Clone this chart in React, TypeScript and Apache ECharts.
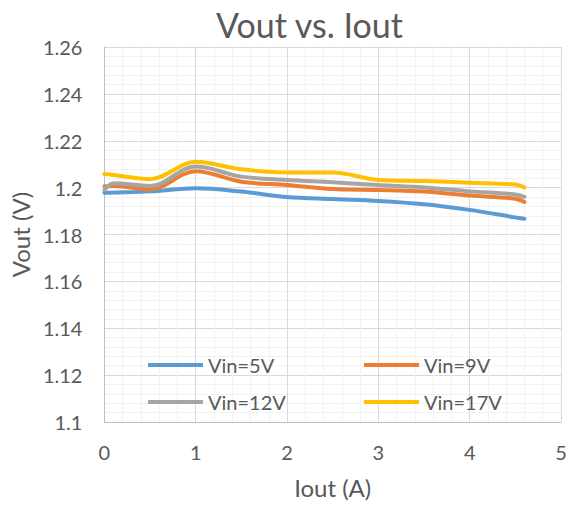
import React, { useEffect, useRef } from "react";
import * as echarts from "echarts";

const iout = [0, 0.1, 0.5, 1, 1.5, 2, 2.5, 3, 3.5, 4, 4.5, 4.6];
const vin5 = [1.1978, 1.1979, 1.1984, 1.1997, 1.1983, 1.196, 1.1951, 1.1943, 1.1929, 1.1905, 1.1873, 1.1867];
const vin9 = [1.2006, 1.2007, 1.1993, 1.207, 1.2025, 1.2011, 1.1994, 1.199, 1.1983, 1.1966, 1.1953, 1.1939];
const vin12 = [1.199, 1.2019, 1.2007, 1.209, 1.2047, 1.2033, 1.2023, 1.2011, 1.2001, 1.1984, 1.1971, 1.1961];
const vin17 = [1.2058, 1.2054, 1.2036, 1.211, 1.2078, 1.2065, 1.2065, 1.2033, 1.2028, 1.2021, 1.2013, 1.2001];
const seriesNames = ["Vin=5V", "Vin=9V", "Vin=12V", "Vin=17V"];
const seriesValues = [vin5, vin9, vin12, vin17];
const colors = ["#5B9BD5", "#ED7D31", "#A5A5A5", "#FFC000"];

const FONT = "Lato";
const TXT = "#595959";

export default function App() {
  const ref = useRef<HTMLDivElement>(null);
  useEffect(() => {
    document.body.style.margin = "0";
    if (!ref.current) return;
    const chart = echarts.init(ref.current, null, { renderer: "svg" });
    const legendPos = [
      { left: 148, top: 355 },
      { left: 364, top: 355 },
      { left: 148, top: 392 },
      { left: 364, top: 392 },
    ];
    chart.setOption({
      animation: false,
      backgroundColor: "#ffffff",
      title: {
        text: "Vout vs. Iout",
        left: 211,
        top: 2,
        textStyle: { fontFamily: FONT, fontSize: 34, fontWeight: "normal", color: TXT },
      },
      legend: seriesNames.map((n, i) => ({
        data: [n],
        left: legendPos[i].left,
        top: legendPos[i].top,
        icon: "rect",
        itemWidth: 55,
        itemHeight: 4,
        itemGap: 5,
        padding: 0,
        textStyle: { fontFamily: FONT, fontSize: 20, color: TXT },
      })),
      grid: { left: 101, right: 11, top: 47, bottom: 83 },
      xAxis: {
        type: "value",
        min: 0,
        max: 5,
        interval: 1,
        name: "Iout (A)",
        nameLocation: "middle",
        nameGap: 53,
        nameTextStyle: { fontFamily: FONT, fontSize: 24, color: TXT },
        axisLine: { show: true, lineStyle: { color: "#bfbfbf", width: 1 } },
        axisTick: { show: false },
        axisLabel: { fontFamily: FONT, fontSize: 20, color: TXT, margin: 20 },
        splitLine: { show: true, lineStyle: { color: "#d9d9d9", width: 1 } },
        minorTick: { show: false, splitNumber: 5 },
        minorSplitLine: { show: true, lineStyle: { color: "#f2f2f2", width: 1 } },
      },
      yAxis: {
        type: "value",
        min: 1.1,
        max: 1.26,
        interval: 0.02,
        name: "Vout (V)",
        nameLocation: "middle",
        nameGap: 60,
        nameTextStyle: { fontFamily: FONT, fontSize: 24, color: TXT },
        axisLine: { show: true, lineStyle: { color: "#bfbfbf", width: 1 } },
        axisTick: { show: false },
        axisLabel: {
          fontFamily: FONT,
          fontSize: 20,
          color: TXT,
          margin: 22,
          formatter: (v: number) => String(parseFloat(v.toFixed(2))),
        },
        splitLine: { show: true, lineStyle: { color: "#d9d9d9", width: 1 } },
        minorTick: { show: false, splitNumber: 5 },
        minorSplitLine: { show: true, lineStyle: { color: "#f2f2f2", width: 1 } },
      },
      series: seriesNames.map((n, i) => ({
        name: n,
        type: "line",
        smooth: 0.35,
        showSymbol: false,
        symbol: "none",
        color: colors[i],
        lineStyle: { color: colors[i], width: 4, cap: "round" },
        data: iout.map((x, j) => [x, seriesValues[i][j]]),
      })),
    });
    return () => chart.dispose();
  }, []);
  return <div ref={ref} style={{ width: 572, height: 505 }} />;
}
